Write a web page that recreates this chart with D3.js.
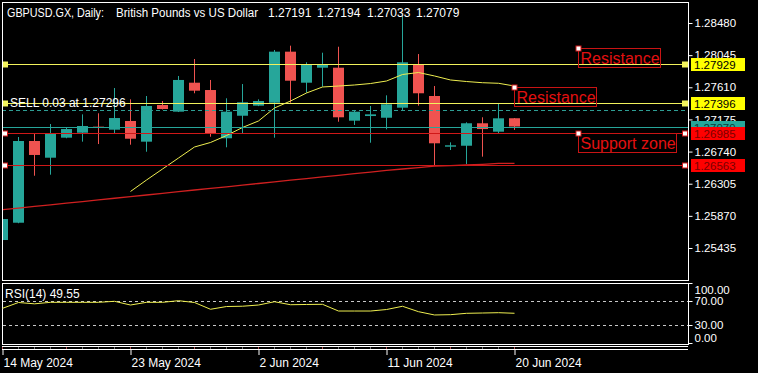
<!DOCTYPE html>
<html>
<head>
<meta charset="utf-8">
<script src="https://cdn.jsdelivr.net/npm/d3@7"></script>
<style>
  body { margin: 0; background: #000; }
  svg { display: block; font-family: "Liberation Sans", Arial, sans-serif; }
</style>
</head>
<body>
<svg id="chart" width="758" height="373"></svg>
<script>
// daily bars, 14 May - 20 Jun 2024 (sunday bars included)
const dates = ["2024-05-14","2024-05-15","2024-05-16","2024-05-17","2024-05-19","2024-05-20","2024-05-21",
  "2024-05-22","2024-05-23","2024-05-24","2024-05-26","2024-05-27","2024-05-28","2024-05-29","2024-05-30",
  "2024-05-31","2024-06-02","2024-06-03","2024-06-04","2024-06-05","2024-06-06","2024-06-07","2024-06-09",
  "2024-06-10","2024-06-11","2024-06-12","2024-06-13","2024-06-14","2024-06-16","2024-06-17","2024-06-18",
  "2024-06-19","2024-06-20"]
const opens  = [1.25543,1.25777,1.26883,1.26657,1.26928,1.26995,1.27077,1.27036,1.27154,1.26874,1.27370,
  1.27280,1.27672,1.27573,1.26920,1.27225,1.27361,1.27401,1.28092,1.27672,1.27875,1.27875,1.27158,1.27221,
  1.27198,1.27334,1.27921,1.27492,1.26806,1.26819,1.27123,1.27009,1.27191]
const highs  = [1.25841,1.26937,1.26987,1.27113,1.27068,1.27244,1.27258,1.27600,1.27447,1.27492,1.27424,
  1.27763,1.27993,1.27709,1.27461,1.27654,1.27447,1.28115,1.28173,1.27948,1.28078,1.28159,1.27303,1.27357,
  1.27501,1.28580,1.28060,1.27627,1.26865,1.27136,1.27204,1.27384,1.27194]
const lows   = [1.25530,1.25770,1.26413,1.26427,1.26920,1.26874,1.26842,1.26978,1.26833,1.26738,1.27310,
  1.27275,1.27529,1.26941,1.26798,1.26978,1.27355,1.26928,1.27401,1.27537,1.27618,1.27144,1.27100,1.26860,
  1.27041,1.27303,1.27361,1.26558,1.26761,1.26572,1.26671,1.26978,1.27033]
const closes = [1.25827,1.26883,1.26694,1.26987,1.27045,1.27086,1.27072,1.27194,1.26914,1.27357,1.27316,
  1.27709,1.27564,1.26978,1.27280,1.27407,1.27424,1.28092,1.27699,1.27912,1.27912,1.27204,1.27280,1.27244,
  1.27380,1.27948,1.27529,1.26852,1.26825,1.27123,1.27045,1.27190,1.27079]

// moving averages (yellow fast one starts at bar 8)
const maFast = [null,null,null,null,null,null,null,null,1.26200,1.26355,1.26504,1.26653,1.26802,1.26863,
  1.26957,1.27066,1.27154,1.27330,1.27424,1.27533,1.27614,1.27627,1.27641,1.27661,1.27695,1.27783,1.27810,
  1.27763,1.27709,1.27688,1.27672,1.27664,1.27627]
const maSlow = [1.25953,1.25975,1.25997,1.26020,1.26041,1.26064,1.26086,1.26108,1.26131,1.26152,1.26175,
  1.26197,1.26220,1.26242,1.26263,1.26286,1.26308,1.26331,1.26353,1.26374,1.26397,1.26419,1.26442,1.26463,
  1.26486,1.26504,1.26524,1.26542,1.26551,1.26558,1.26568,1.26579,1.26581]

const rsi = [57.8,67.5,65.3,67.8,67.8,67.8,67.8,69.5,63.3,67.8,67.8,70.5,67.5,56.2,60.8,61.3,63.3,68.8,
  63.8,64.2,64.5,53.3,53.3,53.3,55.8,61.2,52.2,46.7,47.2,49.5,50.0,50.5,49.55]

const priceTicks = [1.28480, 1.28045, 1.27610, 1.27175, 1.26740, 1.26305, 1.25870, 1.25435]
const rsiTicks = [100, 70, 30, 0]
const dateTicks = [0, 8, 16, 24, 32]

const resistanceLevels = [1.27929, 1.27396]
const supportLevels = [1.26985, 1.26563]
const bidPrice = 1.27079
const sellPrice = 1.27296

// text objects: [label, bar index, price]
const notes = [["Resistance", 36, 1.28142], ["Resistance", 32, 1.27618], ["Support zone", 36, 1.26985]]

const paneLeft = 2, paneRight = 688, paneTop = 2, mainBottom = 280
const rsiTop = 283, rsiBottom = 344

const teal = "#26a69a", red = "#ef5350", lineYellow = "#f2f25c", lineRed = "#d01818"

const svg = d3.select("#chart")
svg.append("rect").attr("width", 758).attr("height", 373).attr("fill", "#000")

const x = d3.scaleLinear().domain([0, 1]).range([2.5, 18.5])
const y = d3.scaleLinear().domain([1.25435, 1.28480]).range([248, 23])
const yRsi = d3.scaleLinear().domain([0, 100]).range([343, 283])

svg.append("clipPath").attr("id", "mainClip")
    .append("rect").attr("x", paneLeft + 1).attr("y", paneTop + 1)
    .attr("width", paneRight - paneLeft - 1).attr("height", mainBottom - paneTop - 1)

const main = svg.append("g").attr("clip-path", "url(#mainClip)")

// candles
const bars = d3.range(dates.length)
main.selectAll("line.wick")
    .data(bars)
    .enter().append("line")
    .attr("class", "wick")
    .attr("x1", d => x(d)).attr("x2", d => x(d))
    .attr("y1", d => y(highs[d])).attr("y2", d => y(lows[d]))
    .attr("stroke", d => closes[d] >= opens[d] ? teal : red)

main.selectAll("rect.body")
    .data(bars)
    .enter().append("rect")
    .attr("class", "body")
    .attr("x", d => x(d) - 5.5)
    .attr("width", 11)
    .attr("y", d => y(Math.max(opens[d], closes[d])))
    .attr("height", d => Math.max(1, Math.abs(y(opens[d]) - y(closes[d]))))
    .attr("fill", d => closes[d] >= opens[d] ? teal : red)

// moving averages
const maLine = arr => d3.line()
    .defined(d => arr[d] != null)
    .x(d => x(d))
    .y(d => y(arr[d]))

main.append("path").datum(bars)
    .attr("d", maLine(maSlow))
    .attr("fill", "none").attr("stroke", "#d02020").attr("stroke-width", 1.3)

main.append("path").datum(bars)
    .attr("d", maLine(maFast))
    .attr("fill", "none").attr("stroke", "#eeee50").attr("stroke-width", 1)

// horizontal levels
function hline(price, color, dash) {
    const yy = Math.round(y(price)) + 0.5
    main.append("line")
        .attr("x1", paneLeft).attr("x2", paneRight)
        .attr("y1", yy).attr("y2", yy)
        .attr("stroke", color)
        .attr("stroke-dasharray", dash || null)
}
hline(sellPrice, "#2e9e94", "4 3")
hline(bidPrice, teal)
resistanceLevels.forEach(p => hline(p, lineYellow))
supportLevels.forEach(p => hline(p, lineRed))

// handles at both ends of the levels
resistanceLevels.forEach(p => {
    [5, 685].forEach(cx => {
        svg.append("rect")
            .attr("x", cx - 3).attr("y", Math.round(y(p)) - 2.5)
            .attr("width", 6).attr("height", 6)
            .attr("fill", lineYellow)
    })
})
supportLevels.forEach(p => {
    [5, 685].forEach(cx => {
        svg.append("rect")
            .attr("x", cx - 2.5).attr("y", Math.round(y(p)) - 2)
            .attr("width", 5).attr("height", 5)
            .attr("fill", "#fff").attr("stroke", lineRed)
    })
})

main.append("text")
    .attr("x", 10).attr("y", y(sellPrice) - 3)
    .attr("fill", "#fff").style("font-size", "12px")
    .text("SELL 0.03 at " + sellPrice.toFixed(5))

// text objects with frames
notes.forEach(([label, bar, price]) => {
    const ax = Math.round(x(bar)) - 0.5, ay = Math.round(y(price)) + 0.5
    const t = svg.append("text")
        .attr("x", ax + 2).attr("y", ay + 15)
        .attr("fill", "#e31010").style("font-size", "16px")
        .text(label)
    const w = t.node().getComputedTextLength()
    svg.append("rect")
        .attr("x", ax).attr("y", ay)
        .attr("width", Math.round(w) + 3).attr("height", 19)
        .attr("fill", "none").attr("stroke", "#c81414")
    svg.append("rect")
        .attr("x", ax - 2.5).attr("y", ay - 2.5)
        .attr("width", 5).attr("height", 5)
        .attr("fill", "#fff").attr("stroke", "#d01818")
})

// pane frames
svg.append("rect").attr("x", paneLeft + 0.5).attr("y", paneTop + 0.5)
    .attr("width", paneRight - paneLeft).attr("height", mainBottom - paneTop)
    .attr("fill", "none").attr("stroke", "#fff")
svg.append("rect").attr("x", paneLeft + 0.5).attr("y", rsiTop + 0.5)
    .attr("width", paneRight - paneLeft).attr("height", rsiBottom - rsiTop)
    .attr("fill", "none").attr("stroke", "#fff")

// price axis
const yAxis = d3.axisRight(y)
    .tickValues(priceTicks)
    .tickSize(4)
    .tickPadding(2)
    .tickFormat(d3.format(".5f"))

svg.append("g")
    .attr("transform", `translate(${paneRight + 0.5},0)`)
    .call(yAxis)
    .call(g => g.select(".domain").remove())
    .call(g => g.selectAll("line").attr("stroke", "#fff"))
    .call(g => g.selectAll("text").attr("fill", "#fff")
        .style("font-size", "11.5px").style("font-family", "Liberation Sans, Arial, sans-serif"))

// price labels on the axis
const priceTags = [
    [resistanceLevels[0], "#ffff00", "#000"],
    [resistanceLevels[1], "#ffff00", "#000"],
    [bidPrice, teal, "#0b3d39"],
    [supportLevels[0], "#ff0000", "#7a0000"],
    [supportLevels[1], "#ff0000", "#7a0000"]
]
priceTags.forEach(([p, bg, fg]) => {
    const yy = Math.round(y(p))
    svg.append("rect")
        .attr("x", 691).attr("y", yy - 6)
        .attr("width", 54).attr("height", 13)
        .attr("fill", bg)
    svg.append("text")
        .attr("x", 694).attr("y", yy + 4.5)
        .attr("fill", fg).style("font-size", "11.5px")
        .text(p.toFixed(5))
})

// RSI pane
const rsiPane = svg.append("g")
rsiPane.selectAll("line.level")
    .data([70, 30])
    .enter().append("line")
    .attr("class", "level")
    .attr("x1", paneLeft + 1).attr("x2", paneRight)
    .attr("y1", d => Math.round(yRsi(d)) + 0.5).attr("y2", d => Math.round(yRsi(d)) + 0.5)
    .attr("stroke", "#c8c8c8").attr("stroke-dasharray", "3 3")

rsiPane.append("path").datum(bars)
    .attr("d", d3.line().x(d => x(d)).y(d => yRsi(rsi[d])))
    .attr("fill", "none").attr("stroke", "#eeee50")

rsiPane.append("text")
    .attr("x", 5).attr("y", 298)
    .attr("fill", "#fff").style("font-size", "12px")
    .text("RSI(14) " + rsi[rsi.length - 1].toFixed(2))

const rsiAxis = d3.axisRight(yRsi)
    .tickValues(rsiTicks)
    .tickSize(4)
    .tickPadding(2)
    .tickFormat(d3.format(".2f"))

svg.append("g")
    .attr("transform", `translate(${paneRight + 0.5},0)`)
    .call(rsiAxis)
    .call(g => g.select(".domain").remove())
    .call(g => g.selectAll("line").attr("stroke", "#fff"))
    .call(g => g.selectAll("text").attr("fill", "#fff")
        .style("font-size", "11.5px").style("font-family", "Liberation Sans, Arial, sans-serif")
        .attr("dy", d => d == 100 ? "0.95em" : d == 0 ? "-0.1em" : "0.32em"))

// time axis
svg.append("line").attr("x1", paneLeft).attr("x2", paneRight)
    .attr("y1", 346.5).attr("y2", 346.5).attr("stroke", "#fff")
svg.append("line").attr("x1", paneLeft).attr("x2", paneRight)
    .attr("y1", 349.5).attr("y2", 349.5).attr("stroke", "#fff")
svg.selectAll("line.minor")
    .data(bars)
    .enter().append("line")
    .attr("class", "minor")
    .attr("x1", d => x(d)).attr("x2", d => x(d))
    .attr("y1", 347).attr("y2", 349)
    .attr("stroke", d => d % 4 == 0 ? "#b05050" : "#707070")

const parse = d3.timeParse("%Y-%m-%d")
const fmt = d3.timeFormat("%-d %b %Y")
const xAxis = d3.axisBottom(x)
    .tickValues(dateTicks)
    .tickSize(6)
    .tickPadding(3)
    .tickFormat(i => fmt(parse(dates[i])))

svg.append("g")
    .attr("transform", "translate(0,349)")
    .call(xAxis)
    .call(g => g.select(".domain").remove())
    .call(g => g.selectAll("line").attr("stroke", "#fff"))
    .call(g => g.selectAll("text").attr("fill", "#fff")
        .style("font-size", "12px").style("font-family", "Liberation Sans, Arial, sans-serif")
        .attr("text-anchor", "start").attr("x", 0.5))

// title: pieces placed where they sit in the terminal, first two squeezed a bit
const titleParts = [["GBPUSD.GX, Daily:", 7, 97], ["British Pounds vs US Dollar", 116, 142],
    [opens[32].toFixed(5), 268], [highs[32].toFixed(5), 317], [lows[32].toFixed(5), 367], [closes[32].toFixed(5), 416]]
svg.selectAll("text.title")
    .data(titleParts)
    .enter().append("text")
    .attr("class", "title")
    .attr("x", d => d[1]).attr("y", 16.5)
    .attr("fill", "#fff").style("font-size", "12px")
    .attr("textLength", d => d[2] || null)
    .attr("lengthAdjust", d => d[2] ? "spacingAndGlyphs" : null)
    .text(d => d[0])
</script>
</body>
</html>
